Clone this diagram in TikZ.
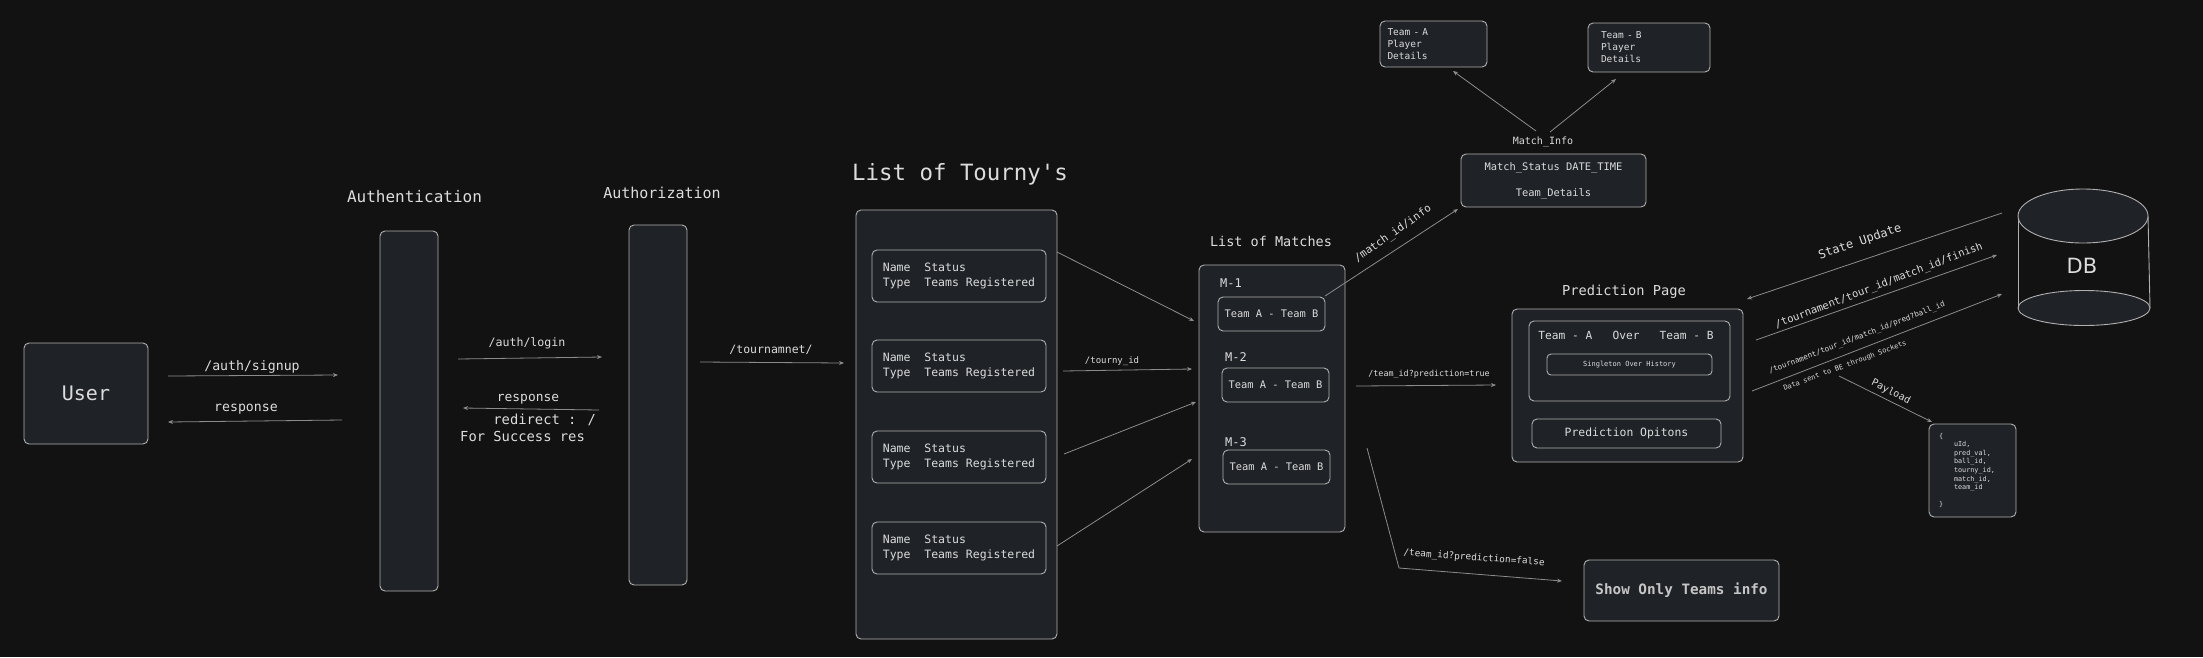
\documentclass[tikz,border=0pt]{standalone}
\usepackage{fontspec}
\setmainfont{DejaVu Sans Mono}
\newfontfamily\dbfont{DejaVu Sans}
\usetikzlibrary{arrows.meta}
\definecolor{bgcol}{HTML}{121212}
\definecolor{boxcol}{HTML}{1F2226}
\definecolor{edgecol}{HTML}{B0B0B0}
\definecolor{arrcol}{HTML}{8C8C8C}
\definecolor{txtcol}{HTML}{DCDCDC}
\newcommand\fsz[2]{\fontsize{#1}{#2}\selectfont}

\begin{document}
\begin{tikzpicture}[x=1pt,y=-1pt,
		box/.style={draw=edgecol, fill=boxcol, rounded corners=5pt, line width=0.9pt, text=txtcol, inner sep=0pt},
		arr/.style={draw=arrcol, line width=0.8pt, -{Stealth[length=5pt,width=4pt]}},
		lbl/.style={text=txtcol, inner sep=0pt}]
		\fill[bgcol] (0,0) rectangle (2203,657);
		\useasboundingbox (0,0) rectangle (2203,657);

		% user, authentication, authorization
		\draw (86,393.5) node[box, minimum width=124pt, minimum height=101pt, font=\fsz{20}{24}] (user) {User};
		\draw (409,411) node[box, minimum width=58pt, minimum height=360pt] (authn) {};
		\draw (658,405) node[box, minimum width=58pt, minimum height=360pt] (authz) {};
		\draw (414.5,197) node[lbl, font=\fsz{16}{19}] (authnT) {Authentication};
		\draw (662,193) node[lbl, font=\fsz{15}{18}] (authzT) {Authorization};

		\coordinate (su1) at (168,376); \coordinate (su2) at (338,375);
		\draw[arr] (su1) -- (su2);
		\draw (252,367) node[lbl, font=\fsz{13.2}{16}] (signupL) {/auth/signup};
		\coordinate (re1) at (342,420); \coordinate (re2) at (168,422);
		\draw[arr] (re1) -- (re2);
		\draw (246,409) node[lbl, font=\fsz{13.2}{16}] (respL) {response};

		\coordinate (lo1) at (458,359); \coordinate (lo2) at (602,357);
		\draw[arr] (lo1) -- (lo2);
		\draw (527,343) node[lbl, font=\fsz{11.6}{14}] (loginL) {/auth/login};
		\coordinate (rb1) at (599,410); \coordinate (rb2) at (463,408);
		\draw[arr] (rb1) -- (rb2);
		\draw (528,399) node[lbl, font=\fsz{12.9}{15}] (resp2L) {response};
		\draw (460,414) node[lbl, anchor=north west, align=left, font=\fsz{13.8}{17}] (redirL) {\ \ \ \ redirect : /\\For Success res};

		% tournaments
		\coordinate (to1) at (700,362); \coordinate (to2) at (844,363);
		\draw[arr] (to1) -- (to2);
		\draw (771,350) node[lbl, font=\fsz{11.5}{14}] (tourL) {/tournamnet/};
		\draw (960,174) node[lbl, font=\fsz{22.4}{26}] (tourT) {List of Tourny\textquotesingle s};
		\draw (956.5,424.5) node[box, minimum width=201pt, minimum height=429pt] (tours) {};
		\foreach \i/\y in {1/276,2/366,3/457,4/548}
			\draw (959,\y) node[box, minimum width=174pt, minimum height=52pt, align=left, font=\fsz{11.5}{15}] (card\i) {Name\ \ Status\\Type\ \ Teams Registered};

		% matches
		\draw (1271,241) node[lbl, font=\fsz{13.5}{16}] (matchT) {List of Matches};
		\draw (1272,398.5) node[box, minimum width=146pt, minimum height=267pt] (matches) {};
		\draw (1220,283) node[lbl, anchor=west, font=\fsz{12}{14}] (m1L) {M-1};
		\draw (1225,357) node[lbl, anchor=west, font=\fsz{12}{14}] (m2L) {M-2};
		\draw (1225,442) node[lbl, anchor=west, font=\fsz{12}{14}] (m3L) {M-3};
		\draw (1271.5,314) node[box, minimum width=107pt, minimum height=34pt, font=\fsz{10.4}{13}] (m1) {Team A - Team B};
		\draw (1275.5,385) node[box, minimum width=107pt, minimum height=34pt, font=\fsz{10.4}{13}] (m2) {Team A - Team B};
		\draw (1276.5,467) node[box, minimum width=107pt, minimum height=34pt, font=\fsz{10.4}{13}] (m3) {Team A - Team B};

		\coordinate (c1a) at (1057,252); \coordinate (c1b) at (1194,321);
		\draw[arr] (c1a) -- (c1b);
		\coordinate (c2a) at (1063,371); \coordinate (c2b) at (1192,369);
		\draw[arr] (c2a) -- (c2b);
		\draw (1112,361) node[lbl, font=\fsz{9}{11}] (tidL) {/tourny\_id};
		\coordinate (c3a) at (1064,454); \coordinate (c3b) at (1196,402);
		\draw[arr] (c3a) -- (c3b);
		\coordinate (c4a) at (1057,546); \coordinate (c4b) at (1192,459);
		\draw[arr] (c4a) -- (c4b);

		% match info
		\draw (1553.5,180.5) node[box, minimum width=185pt, minimum height=53pt, align=center, font=\fsz{10.4}{13}] (minfo) {Match\_Status DATE\_TIME\\[13pt]Team\_Details};
		\draw (1433.5,44) node[box, minimum width=107pt, minimum height=46pt, text width=92pt, inner xsep=7.5pt, align=left, font=\fsz{9.5}{12}] (teamA) {Team - A\\Player\\Details};
		\draw (1649,47.5) node[box, minimum width=122pt, minimum height=49pt, text width=96pt, inner xsep=13pt, align=left, font=\fsz{9.5}{12}] (teamB) {Team - B\\Player\\Details};
		\draw (1543,142) node[lbl, font=\fsz{10}{12}] (minfoL) {Match\_Info};
		\coordinate (ia1) at (1536,131); \coordinate (ia2) at (1453,71);
		\draw[arr] (ia1) -- (ia2);
		\coordinate (ib1) at (1550,132); \coordinate (ib2) at (1616,79);
		\draw[arr] (ib1) -- (ib2);
		\coordinate (mi1) at (1325,296); \coordinate (mi2) at (1458,209);
		\draw[arr] (mi1) -- (mi2);
		\draw (1393,234) node[lbl, rotate=35, font=\fsz{10.8}{13}] (miL) {/match\_id/info};

		% prediction page
		\draw (1624,292) node[lbl, font=\fsz{13.7}{16}] (predT) {Prediction Page};
		\draw (1627.5,385.5) node[box, minimum width=231pt, minimum height=153pt] (pred) {};
		\draw (1629.5,361) node[box, minimum width=201pt, minimum height=80pt] (predin) {};
		\draw (1626,335) node[lbl, font=\fsz{11.2}{13}] (overL) {Team - A\ \ \ Over\ \ \ Team - B};
		\draw (1629.5,364.5) node[box, rounded corners=4pt, minimum width=165pt, minimum height=21pt, font=\fsz{7}{9}] (single) {Singleton Over History};
		\draw (1626.5,433.5) node[box, minimum width=189pt, minimum height=29pt, font=\fsz{11.4}{14}] (predopt) {Prediction Opitons};
		\coordinate (pt1) at (1356,386); \coordinate (pt2) at (1496,385);
		\draw[arr] (pt1) -- (pt2);
		\draw (1429,374) node[lbl, font=\fsz{8.4}{10}] (ptL) {/team\_id?prediction=true};

		\draw (1681.5,590.5) node[box, minimum width=195pt, minimum height=61pt, text=txtcol!90!black, font=\bfseries\fsz{14.3}{17}] (showonly) {Show Only Teams info};
		\coordinate (pf1) at (1367,448); \coordinate (pf2) at (1399,568); \coordinate (pf3) at (1562,581);
		\draw[arr] (pf1) -- (pf2) -- (pf3);
		\draw (1474,558) node[lbl, rotate=-4, font=\fsz{9.4}{11}] (pfL) {/team\_id?prediction=false};

		% database
		\draw[edgecol, line width=0.9pt, fill=boxcol] (2084,308) ellipse [x radius=66, y radius=17.5];
		\draw[edgecol, line width=0.9pt] (2018,216) -- (2018,308);
		\draw[edgecol, line width=0.9pt] (2148,216) -- (2150,308);
		\draw[edgecol, line width=0.9pt, fill=boxcol] (2083,216) ellipse [x radius=65, y radius=27];
		\draw (2082,266) node[lbl, font=\dbfont\fsz{21}{24}] (db) {DB};

		\coordinate (su1d) at (2002,213); \coordinate (su2d) at (1747,299);
		\draw[arr] (su1d) -- (su2d);
		\draw (1860,242) node[lbl, rotate=18.8, font=\fsz{12}{14}] (stateL) {State Update};
		\coordinate (fi1) at (1756,340); \coordinate (fi2) at (1997,255);
		\draw[arr] (fi1) -- (fi2);
		\draw (1879,286) node[lbl, rotate=21, font=\fsz{10.5}{12}] (finL) {/tournament/tour\_id/match\_id/finish};
		\coordinate (pr1) at (1752,391); \coordinate (pr2) at (2002,294);
		\draw[arr] (pr1) -- (pr2);
		\draw (1857,338) node[lbl, rotate=21, font=\fsz{7.6}{9}] (prL) {/tournament/tour\_id/match\_id/pred?ball\_id};
		\draw (1845,366) node[lbl, rotate=20.5, font=\fsz{7}{9}] (sockL) {Data sent to BE through Sockets};

		% payload
		\draw (1972.5,470.5) node[box, minimum width=87pt, minimum height=93pt, text width=67pt, inner xsep=10pt, align=left, font=\fsz{6.8}{8.6}] (payload) {\{\\\hspace*{15pt}uId,\\\hspace*{15pt}pred\_val,\\\hspace*{15pt}ball\_id,\\\hspace*{15pt}tourny\_id,\\\hspace*{15pt}match\_id,\\\hspace*{15pt}team\_id\\[8.6pt]\}};
		\coordinate (pa1) at (1839,376); \coordinate (pa2) at (1932,422);
		\draw[arr] (pa1) -- (pa2);
		\draw (1891,392) node[lbl, rotate=-27, font=\fsz{10}{12}] (payL) {Payload};
	\end{tikzpicture}
\end{document}
